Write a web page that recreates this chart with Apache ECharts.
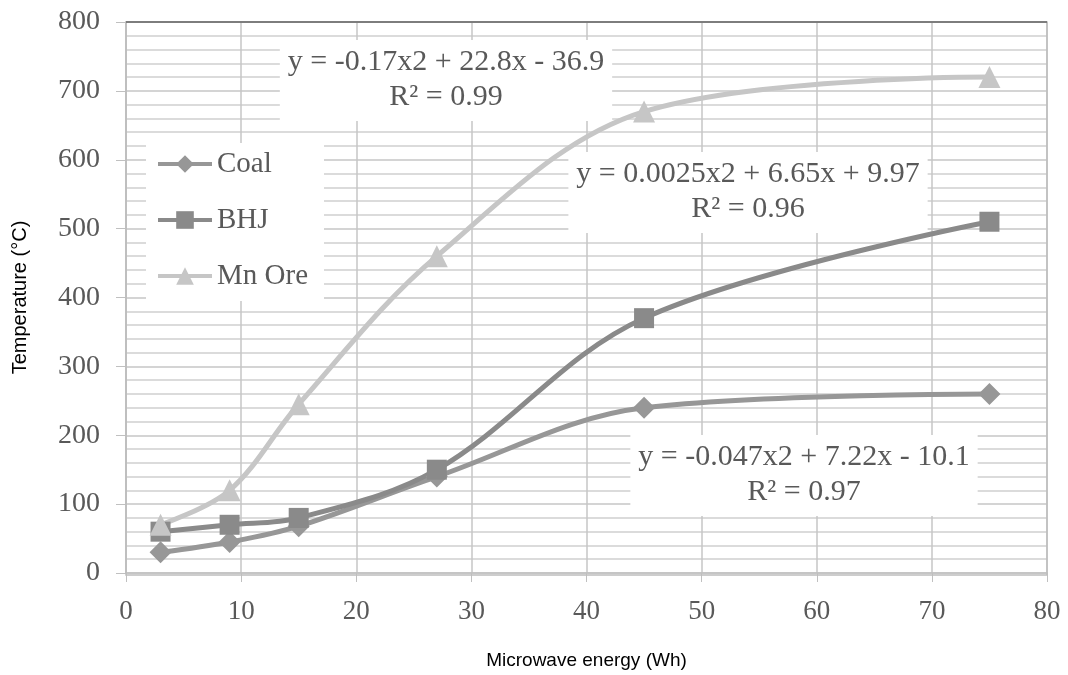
<!DOCTYPE html>
<html>
<head>
<meta charset="utf-8">
<script src="https://cdn.jsdelivr.net/npm/echarts@6/dist/echarts.min.js"></script>
<style>
  html, body { margin: 0; padding: 0; background: #fff; }
  #container { width: 1068px; height: 675px; }
</style>
</head>
<body>
<div id="container"></div>
<script>
var dom = document.getElementById("container");
var myChart = echarts.init(dom, null, { renderer: "canvas" });

// microwave energy (Wh)
const energy = [3, 9, 15, 27, 45, 75];
const coalTemp = [30, 45, 68, 140, 240, 260];
const bhjTemp = [60, 70, 80, 150, 370, 510];
const mnOreTemp = [70, 120, 245, 460, 670, 720];

const fitLabels = [
  { lines: ["y = -0.17x2 + 22.8x - 36.9", "R\u00b2 = 0.99"], x: 446, y: 40 },
  { lines: ["y = 0.0025x2 + 6.65x + 9.97", "R\u00b2 = 0.96"], x: 748, y: 152 },
  { lines: ["y = -0.047x2 + 7.22x - 10.1", "R\u00b2 = 0.97"], x: 804, y: 435 },
];

const serif = "Liberation Serif";
const axisGray = "#595959";

function pairs(ys) {
  return energy.map(function (x, i) {
    return [x, ys[i]];
  });
}

function lineSeries(name, ys, color, symbol, size) {
  return {
    name: name,
    type: "line",
    smooth: 0.35,
    data: pairs(ys),
    symbol: symbol,
    symbolSize: size,
    z: 3,
    lineStyle: { color: color, width: 5 },
    itemStyle: { color: color },
  };
}

var option = {
  animation: false,
  grid: { left: 126, right: 21, top: 22, bottom: 100 },
  legend: {
    orient: "vertical",
    left: 146,
    top: 143,
    padding: [4, 16, 8, 10],
    itemGap: 22,
    itemWidth: 54,
    itemHeight: 22,
    backgroundColor: "#fff",
    lineStyle: { width: 4 },
    textStyle: { fontFamily: serif, fontSize: 29, lineHeight: 34, color: axisGray },
    data: ["Coal", "BHJ", "Mn Ore"],
  },
  xAxis: {
    type: "value",
    min: 0,
    max: 80,
    interval: 10,
    name: "Microwave energy (Wh)",
    nameLocation: "middle",
    nameGap: 78,
    nameTextStyle: { fontFamily: "Liberation Sans", fontSize: 19, color: "#000" },
    axisLine: { show: true, lineStyle: { color: "#c0c0c0", width: 1.5 } },
    axisTick: { show: true, length: 9, lineStyle: { color: "#c0c0c0" } },
    axisLabel: { fontFamily: serif, fontSize: 27, color: axisGray, margin: 25 },
    splitLine: { show: true, lineStyle: { color: "#c6c6c6", width: 1.5 } },
  },
  yAxis: {
    type: "value",
    min: 0,
    max: 800,
    interval: 100,
    name: "Temperature (\u00b0C)",
    nameLocation: "middle",
    nameGap: 96,
    nameTextStyle: { fontFamily: "Liberation Sans", fontSize: 20, color: "#000" },
    axisLine: { show: true, lineStyle: { color: "#c0c0c0", width: 1.5 } },
    axisTick: { show: true, length: 10, lineStyle: { color: "#c0c0c0" } },
    axisLabel: { fontFamily: serif, fontSize: 28, color: axisGray, margin: 26 },
    splitLine: { show: true, lineStyle: { color: "#c6c6c6", width: 1.5 } },
    minorTick: { show: false, splitNumber: 5 },
    minorSplitLine: { show: true, lineStyle: { color: "#cfcfcf", width: 1.5 } },
  },
  graphic: {
    elements: [
      {
        type: "rect",
        shape: { x: 126, y: 22, width: 921, height: 553 },
        style: { fill: "none", stroke: "#bdbdbd", lineWidth: 1.5 },
        z: 1,
        silent: true,
      },
      {
        type: "line",
        shape: { x1: 126, y1: 22, x2: 1047, y2: 22 },
        style: { stroke: "#666", lineWidth: 1.5 },
        z: 1,
        silent: true,
      },
    ].concat(
      fitLabels.map(function (f) {
        return {
          type: "text",
          x: f.x,
          y: f.y,
          z: 2,
          silent: true,
          style: {
            text: f.lines.join("\n"),
            align: "center",
            verticalAlign: "top",
            fontFamily: serif,
            fontSize: 30,
            lineHeight: 35,
            fill: axisGray,
            backgroundColor: "#fff",
            padding: [5, 8, 6, 8],
          },
        };
      })
    ),
  },
  series: [
    lineSeries("Coal", coalTemp, "#979797", "diamond", 22),
    lineSeries("BHJ", bhjTemp, "#8a8a8a", "rect", 20),
    lineSeries("Mn Ore", mnOreTemp, "#c6c6c6", "triangle", 22),
  ],
};

myChart.setOption(option);
window.addEventListener("resize", myChart.resize);
</script>
</body>
</html>
